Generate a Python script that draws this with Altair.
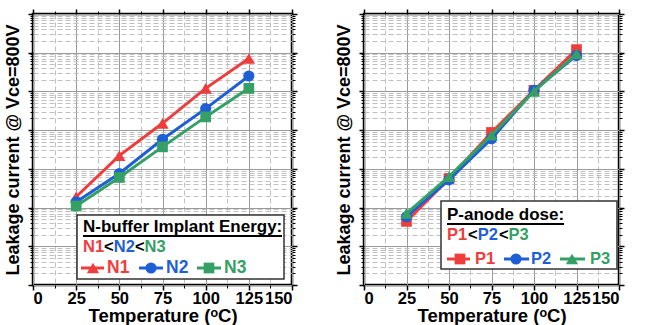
import altair as alt
import pandas as pd

# Temperatures (degC) and leakage current at Vce = 800 V (A)
temps = [25, 50, 75, 100, 125]

n_names = ["N1", "N2", "N3"]
n1 = [1.9e-7, 2.2e-6, 1.5e-5, 1.2e-4, 7.1e-4]
n2 = [1.4e-7, 7.6e-7, 5.8e-6, 3.6e-5, 2.5e-4]
n3 = [1.1e-7, 6.0e-7, 3.7e-6, 2.2e-5, 1.2e-4]

p_names = ["P1", "P2", "P3"]
p1 = [4.4e-8, 5.6e-7, 8.7e-6, 1.07e-4, 1.2e-3]
p2 = [5.8e-8, 5.2e-7, 6.0e-6, 1.07e-4, 8.5e-4]
p3 = [7.1e-8, 6.3e-7, 7.4e-6, 1.0e-4, 9.4e-4]

x_major = [0, 25, 50, 75, 100, 125, 150]
x_minor = [12.5, 37.5, 62.5, 87.5, 112.5, 137.5]
decades = list(range(-9, -1))
y_major = [10.0 ** e for e in decades]
y_minor = [k * 10.0 ** e for e in decades[:-1] for k in range(2, 10)]

RED, BLUE, GREEN = "#ef3d3d", "#1f5fd6", "#35a065"
FONT = "Liberation Sans"
H = 271
SIZES = {"triangle-up": 150, "circle": 125, "square": 115}


def long_frame(names, series):
    rows = []
    for name, vals in zip(names, series):
        for t, v in zip(temps, vals):
            rows.append({"series": name, "T": t, "I": v})
    return pd.DataFrame(rows)


def axis_layer(df, xaxis, yaxis):
    return alt.Chart(df).mark_line(opacity=0).encode(
        x=alt.X("T:Q", scale=alt.Scale(domain=[0, 150], nice=False, zero=False), axis=xaxis),
        y=alt.Y("I:Q", scale=alt.Scale(type="log", domain=[1e-9, 1e-2], nice=False), axis=yaxis),
        detail="series:N",
    )


def grid_axes(df):
    common = dict(domain=False, tickColor="black", labelFont=FONT, titleFont=FONT)
    minor = axis_layer(
        df,
        alt.Axis(orient="bottom", values=x_minor, labels=False, title=None, grid=True,
                 gridColor="#c0c0c0", gridDash=[5, 3], gridWidth=1, tickSize=3, tickWidth=1, **common),
        alt.Axis(orient="left", values=y_minor, labels=False, title=None, grid=True,
                 gridColor="#c0c0c0", gridDash=[5, 3], gridWidth=1, tickSize=3, tickWidth=1, **common),
    )
    major = axis_layer(
        df,
        alt.Axis(orient="bottom", values=x_major, grid=True, gridColor="#9a9a9a", gridWidth=1,
                 tickSize=5, tickWidth=1.5, labelFontSize=16.5, labelFontWeight="bold",
                 labelColor="black", labelPadding=0, title="Temperature (ᵒC)",
                 titleFontSize=18.5, titleFontWeight="bold", titleColor="black",
                 titlePadding=0, **common),
        alt.Axis(orient="left", values=y_major, grid=True, gridColor="#9a9a9a", gridWidth=1,
                 tickSize=5, tickWidth=1.5, labels=False, title="Leakage current @ Vce=800V",
                 titleFontSize=18, titleFontWeight="bold", titleColor="black",
                 titlePadding=5, **common),
    )
    mirror = axis_layer(
        df,
        alt.Axis(orient="top", values=x_major, labels=False, title=None, grid=False,
                 tickSize=5, tickWidth=1.5, **common),
        alt.Axis(orient="right", values=y_major, labels=False, title=None, grid=False,
                 tickSize=5, tickWidth=1.5, **common),
    )
    mirror_minor = axis_layer(
        df,
        alt.Axis(orient="top", values=x_minor, labels=False, title=None, grid=False,
                 tickSize=3, tickWidth=1, **common),
        alt.Axis(orient="right", values=y_minor, labels=False, title=None, grid=False,
                 tickSize=3, tickWidth=1, **common),
    )
    return [minor, major, mirror, mirror_minor]


def data_layers(df, names, colors, shapes):
    color = alt.Color("series:N", scale=alt.Scale(domain=names, range=colors), legend=None)
    x = alt.X("T:Q", scale=alt.Scale(domain=[0, 150], nice=False, zero=False), axis=None)
    y = alt.Y("I:Q", scale=alt.Scale(type="log", domain=[1e-9, 1e-2], nice=False), axis=None)
    layers = []
    for name, shp in zip(names, shapes):
        sub = df[df["series"] == name]
        layers.append(alt.Chart(sub).mark_line(strokeWidth=3).encode(x=x, y=y, color=color))
        layers.append(alt.Chart(sub).mark_point(
            filled=True, shape=shp, size=SIZES[shp], opacity=1).encode(x=x, y=y, color=color))
    return layers


one = pd.DataFrame({"k": [0]})


def txt(s, x, y, color, size):
    return alt.Chart(one).mark_text(
        text=s, align="left", baseline="middle", font=FONT, fontWeight="bold",
        fontSize=size, color=color,
    ).encode(x=alt.value(x), y=alt.value(y))


def hline(x1, x2, y, color, w):
    return alt.Chart(one).mark_rule(color=color, strokeWidth=w).encode(
        x=alt.value(x1), x2=alt.value(x2), y=alt.value(y))


def sym(shape, x, y, color):
    return alt.Chart(one).mark_point(shape=shape, filled=True, size=SIZES[shape], opacity=1,
                                     color=color).encode(x=alt.value(x), y=alt.value(y))


def box(x1, x2, y1, y2):
    return alt.Chart(one).mark_rect(fill="white", stroke="#333333", strokeWidth=1.5).encode(
        x=alt.value(x1), x2=alt.value(x2), y=alt.value(y1), y2=alt.value(y2))


def legend(x0, y0, x1, y1, title, title_w, names, colors, shapes, row3, row3_size, rows_y):
    ty, r2y, r3y = rows_y
    fs = 16.5
    tx = x0 + 6
    parts = [box(x0, x1, y0, y1),
             txt(title, tx, ty, "black", 17),
             hline(tx, tx + title_w, ty + 9, "black", 2)]
    # ordering line, e.g. N1<N2<N3
    name_w = 0.64 * fs * 2
    lt_w = 0.584 * fs
    ox = [tx, tx + name_w, tx + name_w + lt_w, tx + 2 * name_w + lt_w, tx + 2 * name_w + 2 * lt_w]
    parts += [txt(names[0], ox[0], r2y, colors[0], fs), txt("<", ox[1], r2y, "black", fs),
              txt(names[1], ox[2], r2y, colors[1], fs), txt("<", ox[3], r2y, "black", fs),
              txt(names[2], ox[4], r2y, colors[2], fs)]
    for (lx1, lx2, mx, tx3), name, c, s in zip(row3, names, colors, shapes):
        parts += [hline(lx1, lx2, r3y, c, 3), sym(s, mx, r3y, c), txt(name, tx3, r3y, c, row3_size)]
    return parts


# Left panel: N-buffer implant energy
df_n = long_frame(n_names, [n1, n2, n3])
n_colors = [RED, BLUE, GREEN]
n_shapes = ["triangle-up", "circle", "square"]
left_layers = grid_axes(df_n) + data_layers(df_n, n_names, n_colors, n_shapes) + legend(
    44, 201, 251, 265, "N-buffer Implant Energy:", 199, n_names, n_colors, n_shapes,
    [(48, 71, 60, 74), (106, 130, 118, 133), (164, 188, 176, 191)], 17.5, (213, 233, 254))
left = alt.layer(*left_layers).resolve_scale(x="shared", y="shared").resolve_axis(
    x="independent", y="independent").properties(width=259, height=H)

# Right panel: P-anode dose
df_p = long_frame(p_names, [p1, p2, p3])
p_colors = [RED, BLUE, GREEN]
p_shapes = ["square", "circle", "triangle-up"]
right_layers = grid_axes(df_p) + data_layers(df_p, p_names, p_colors, p_shapes) + legend(
    77, 187, 253, 255, "P-anode dose:", 117, p_names, p_colors, p_shapes,
    [(83, 106, 96, 111), (140, 165, 152, 167), (196, 221, 208, 226)], 16.5, (201, 221, 245))
right = alt.layer(*right_layers).resolve_scale(x="shared", y="shared").resolve_axis(
    x="independent", y="independent").properties(width=255, height=H)

chart = alt.hconcat(left, right, spacing=34).properties(
    padding={"left": 2, "top": 7, "right": 5, "bottom": 0},
    background="white",
).configure_view(stroke="black", strokeWidth=2.5)

chart.save("out.html", embed_options={"renderer": "svg", "actions": False})
